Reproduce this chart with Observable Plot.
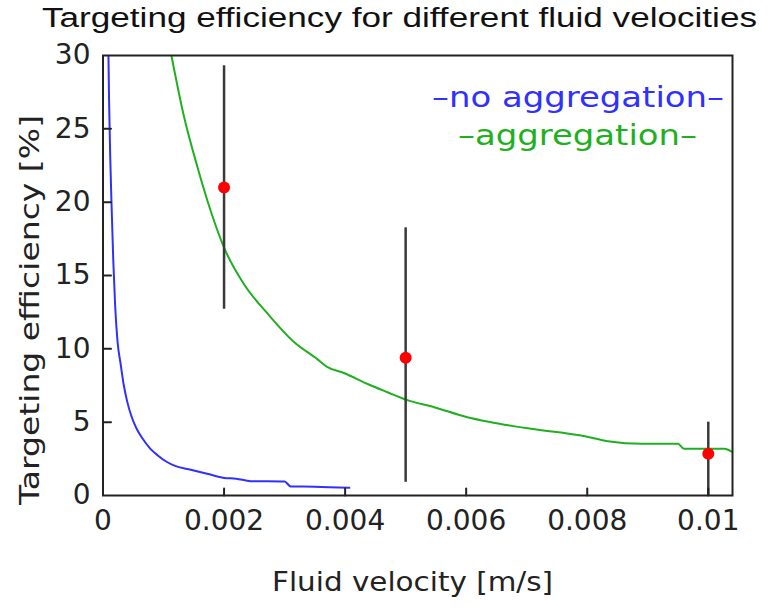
<!DOCTYPE html>
<html><head><meta charset="utf-8">
<script src="https://cdn.jsdelivr.net/npm/d3@7"></script>
<script src="https://cdn.jsdelivr.net/npm/@observablehq/plot@0.6"></script>
<style>body{margin:0;background:#fff}</style>
</head><body><div id="chart"></div>
<script>
// Data
const noAggX = [0.00009,0.0001,0.00012,0.00014,0.00017,0.0002,0.00024,0.00029,0.00034,0.0004,0.00047,0.00055,0.00065,0.00078,0.0009,0.00105,0.0012,0.00145,0.00172,0.002,0.0022,0.00244,0.003,0.0031,0.0035,0.00407];
const noAggY = [30,27,23,20,16,13,10.5,9.0,7.6,6.4,5.4,4.6,3.9,3.2,2.75,2.3,2.0,1.75,1.48,1.2,1.15,0.98,0.95,0.62,0.6,0.52];
const aggX = [0.00113,0.00134,0.00156,0.00178,0.002,0.00233,0.00272,0.00316,0.00354,0.00371,0.00398,0.00437,0.0047,0.00503,0.00547,0.00602,0.00641,0.00707,0.0079,0.00834,0.0089,0.0095,0.0096,0.01027,0.01038];
const aggY = [30,25.8,22.4,19.4,16.9,14.4,12.4,10.45,9.3,8.75,8.35,7.6,7.04,6.5,6.02,5.34,5.0,4.55,4.09,3.7,3.52,3.52,3.18,3.18,3.0];
const expX = [0.002,0.005,0.01];
const expY = [21.0,9.4,2.85];
const expLo = [12.7,0.9,0];
const expHi = [29.3,18.25,5.0];
const xTicks = [0,0.002,0.004,0.006,0.008,0.01];
const xTickLabels = ["0","0.002","0.004","0.006","0.008","0.01"];
const yTicks = [0,5,10,15,20,25,30];
const titleText = "Targeting efficiency for different fluid velocities";
const xLabel = "Fluid velocity [m/s]";
const yLabel = "Targeting efficiency [%]";
const legendLabels = ["–no aggregation–","–aggregation–"];
const legendColors = ["#3030ff","#1fb01f"];

const noAgg = noAggX.map((x,i)=>({x, y: noAggY[i]}));
const agg = aggX.map((x,i)=>({x, y: aggY[i]}));
const exp = expX.map((x,i)=>({x, y: expY[i], lo: expLo[i], hi: expHi[i]}));

const tickShape = {draw(ctx, l) { ctx.moveTo(0, 0); ctx.lineTo(0, -l); }};

const plot = Plot.plot({
  width: 777, height: 612,
  marginLeft: 102.5, marginRight: 45, marginTop: 55, marginBottom: 117,
  style: {fontFamily: "DejaVu Sans", fontSize: "28px", color: "#222", background: "white"},
  x: {domain: [0, 0.0104]},
  y: {domain: [0, 30]},
  marks: [
    Plot.line(noAgg, {x: "x", y: "y", stroke: legendColors[0], strokeWidth: 2, curve: "monotone-x", clip: true}),
    Plot.line(agg, {x: "x", y: "y", stroke: legendColors[1], strokeWidth: 2, curve: "monotone-x", clip: true}),
    Plot.ruleX(exp, {x: "x", y1: "lo", y2: "hi", stroke: "#3a3a3a", strokeWidth: 2.5}),
    Plot.dot(exp, {x: "x", y: "y", r: 6, fill: "#ff0000", stroke: "none"}),
    // inward tick marks
    Plot.vector(xTicks.slice(1), {x: d => d, frameAnchor: "bottom", length: 7, rotate: 0, anchor: "start", shape: tickShape, stroke: "#222", strokeWidth: 2}),
    Plot.vector(yTicks.slice(1, -1), {y: d => d, frameAnchor: "left", length: 8, rotate: 90, anchor: "start", shape: tickShape, stroke: "#222", strokeWidth: 2}),
    Plot.axisX({ticks: xTicks, tickSize: 0, tickPadding: 15, tickFormat: d => xTickLabels[xTicks.indexOf(d)], label: null}),
    Plot.axisY({ticks: yTicks, tickSize: 0, tickPadding: 12.5, label: null}),
    Plot.frame({stroke: "#222", strokeWidth: 2})
  ]
});
document.getElementById("chart").appendChild(plot);

const svg = d3.select(plot);
function addText(t, x, y, opts) {
  const el = svg.append("text")
    .attr("x", x).attr("y", y)
    .attr("text-anchor", "middle")
    .attr("font-family", opts.family || "DejaVu Sans")
    .attr("font-size", opts.size)
    .attr("fill", opts.fill || "#222")
    .attr("textLength", opts.len)
    .attr("lengthAdjust", "spacingAndGlyphs")
    .text(t);
  if (opts.rotate) el.attr("transform", `rotate(-90 ${x} ${y})`);
  return el;
}
addText(titleText, 399.5, 27, {family: "Liberation Sans", size: 27, len: 715, fill: "#111"});
addText(xLabel, 412.5, 591, {size: 26, len: 281});
addText(yLabel, 39, 310, {size: 27, len: 390, rotate: true});
addText(legendLabels[0], 578, 107, {size: 29, len: 292, fill: legendColors[0]});
addText(legendLabels[1], 577.5, 145, {size: 29, len: 239, fill: legendColors[1]});
</script>
</body></html>
